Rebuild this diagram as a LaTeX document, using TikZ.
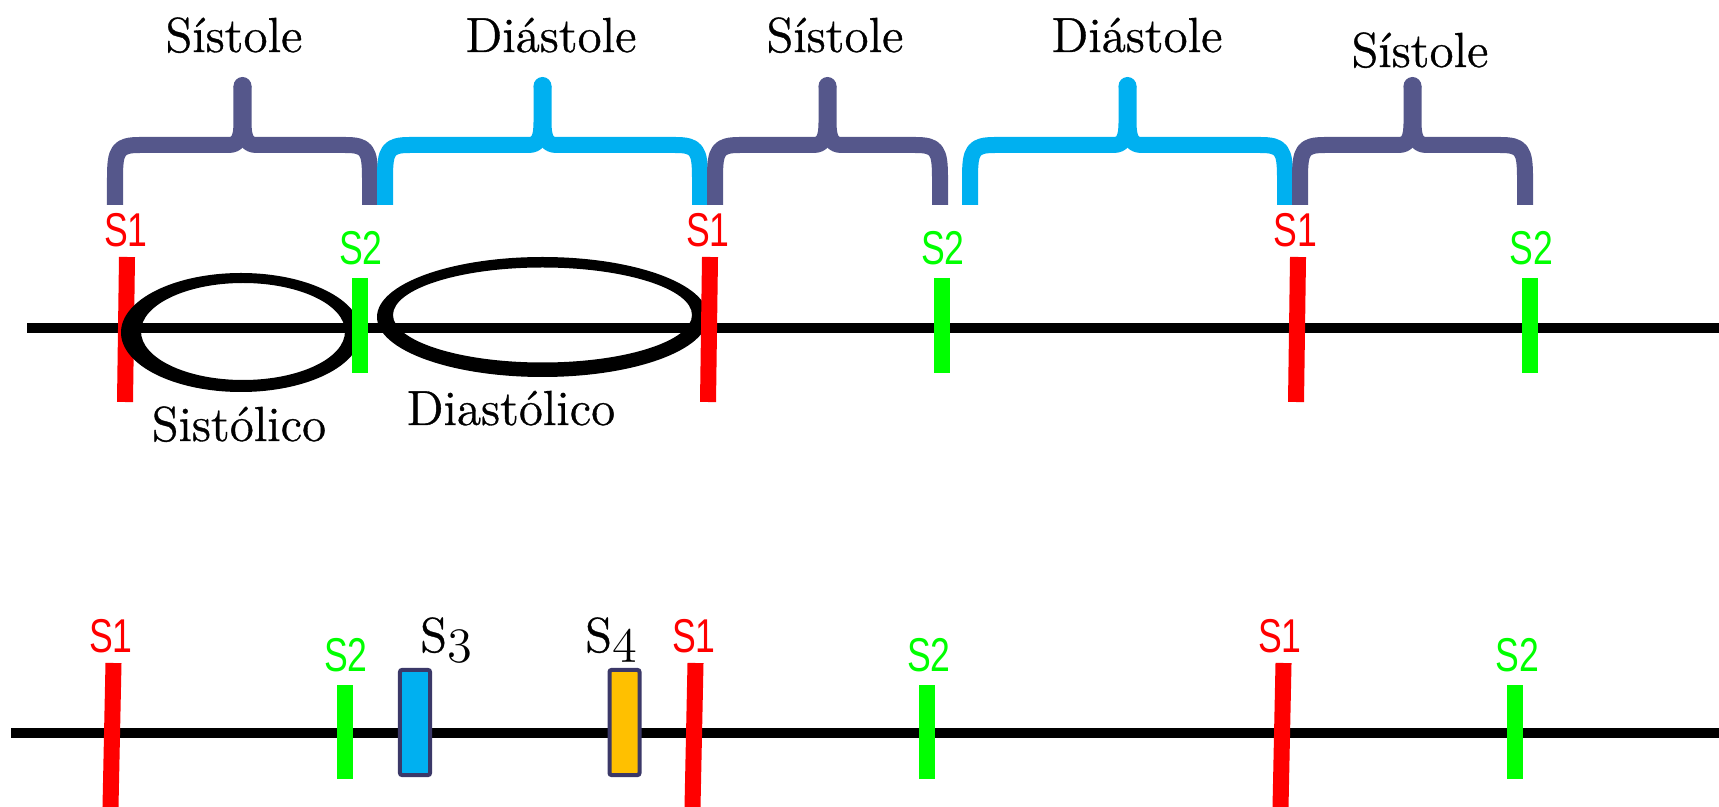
\documentclass[tikz,border=0pt]{standalone}
\usepackage{fontspec}
\newfontfamily\tagfont[FakeStretch=0.75]{Liberation Sans}
\newfontfamily\phasefont[FakeBold=0.7]{Latin Modern Roman}
\usetikzlibrary{positioning}

\definecolor{systc}{HTML}{55578B}
\definecolor{diasc}{HTML}{00B0F0}
\definecolor{sonec}{HTML}{FF0000}
\definecolor{stwoc}{HTML}{00FF00}
\definecolor{sfourc}{HTML}{FFC000}
\definecolor{edgec}{HTML}{3B3868}

\tikzset{
  phase/.style={font=\phasefont\fontsize{14}{16}\selectfont,inner sep=0pt,anchor=base},
  tag/.style={font=\tagfont\fontsize{13.5}{15}\selectfont,inner sep=0pt,anchor=base},
  beat/.style={line width=0.16cm},
  trace/.style={line width=0.1cm},
  gallop/.style={draw=edgec,line width=0.04cm,rounded corners=0.02cm,inner sep=0pt,
    minimum width=0.3cm,minimum height=1.05cm},
  bracehalf/.style={line width=0.16cm,line join=round},
}

\begin{document}
\begin{tikzpicture}[x=0.01cm,y=-0.01cm]
  \useasboundingbox (0,0) rectangle (1719,807);
  % braces over the phases
  \foreach \xl/\xr/\col in {115/370/systc,385/700/diasc,715/940/systc,970/1285/diasc,1300/1525/systc}{
    \pgfmathsetmacro\xm{(\xl+\xr)/2}
    \draw[bracehalf,\col] (\xl,205) -- (\xl,178) .. controls (\xl,150) and (\xl+3,145) .. (\xl+25,145)
      -- (\xm-14,145) .. controls (\xm-4,145) and (\xm-1,138) .. (\xm-1,122) -- (\xm-1,86);
    \draw[bracehalf,\col] (\xr,205) -- (\xr,178) .. controls (\xr,150) and (\xr-3,145) .. (\xr-25,145)
      -- (\xm+14,145) .. controls (\xm+4,145) and (\xm+1,138) .. (\xm+1,122) -- (\xm+1,86);
    \fill[\col] (\xm,86) circle [radius=9];
  }
  \foreach \x/\bl/\txt/\n in {234/52/Sístole/1,551/52/Diástole/2,835/52/Sístole/3,1137/52/Diástole/4,1420/67/Sístole/5}
    \node[phase] (ph\n) at (\x,\bl) {\txt};

  % upper trace
  \draw[trace] (27,328) -- (1719,328);
  \draw[beat,sonec] (127,257) -- (125,402);
  \fill[even odd rule] (241,332.5) ellipse [x radius=120,y radius=59.5] (243,331.5) ellipse [x radius=102,y radius=48.5];
  \fill[even odd rule] (542.5,317) ellipse [x radius=165.5,y radius=60] (542.5,315) ellipse [x radius=149.5,y radius=47.5];
  \foreach \x in {709,1297} \draw[beat,sonec] (\x+1,257) -- (\x-1,402);
  \foreach \x in {360,942,1530} \draw[beat,stwoc] (\x,278) -- (\x,373);
  \foreach \x/\n in {126/1,708/2,1295/3} \node[tag,sonec] (uSone\n) at (\x,247) {S1};
  \foreach \x/\n in {361/1,943/2,1531/3} \node[tag,stwoc] (uStwo\n) at (\x,265) {S2};
  \node[phase] (sys) at (239,441) {Sistólico};
  \node[phase] (dia) at (511,425) {Diastólico};

  % lower trace
  \draw[trace] (11,733) -- (1719,733);
  \foreach \x in {112,694,1282} \draw[beat,sonec] (\x+1.5,663) -- (\x-1.5,807);
  \foreach \x in {345,927,1515} \draw[beat,stwoc] (\x,685) -- (\x,779);
  \foreach \x/\n in {111/1,694/2,1280/3} \node[tag,sonec] (lSone\n) at (\x,652) {S1};
  \foreach \x/\n in {346/1,929/2,1517/3} \node[tag,stwoc] (lStwo\n) at (\x,671) {S2};
  \node[gallop,fill=diasc] (sthree) at (415,722.5) {};
  \node[gallop,fill=sfourc] (sfour) at (624.5,722.5) {};
  \node[phase] (lsthree) at (446,652) {S$\mathnormal{3}$};
  \node[phase] (lsfour) at (611,652) {S$\mathnormal{4}$};
\end{tikzpicture}
\end{document}
